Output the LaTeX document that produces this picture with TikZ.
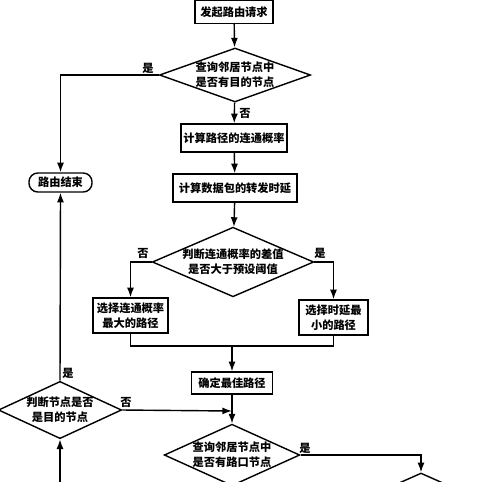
\documentclass[tikz,border=0pt]{standalone}
\usepackage{fontspec}
\newfontfamily\cjk{Noto Sans CJK SC}
\usetikzlibrary{arrows.meta,shapes.geometric}
\newdimen\pu \pu=0.02cm
\begin{document}
\begin{tikzpicture}[x=0.02cm,y=-0.02cm,
  every node/.style={font=\cjk\bfseries\fontsize{6.4}{8.6}\selectfont, inner sep=0pt, align=center},
  box/.style={draw, line width=0.8pt, rectangle},
  dia/.style={draw, line width=0.8pt, diamond},
  term/.style={draw, line width=0.8pt, rounded corners=5pt},
  arr/.style={line width=0.8pt, -{Latex[length=5.5pt,width=4pt]}},
  ln/.style={line width=0.8pt}]
\useasboundingbox (0,0) rectangle (500,481);

\node[box, minimum width=78\pu, minimum height=23\pu] (start) at (234,12) {发起路由请求};
\node[dia, minimum width=146\pu, minimum height=52\pu, aspect=2.8] (d1) at (235,75) {查询邻居节点中\\是否有目的节点};
\node[box, minimum width=106\pu, minimum height=28\pu] (p1) at (234,138) {计算路径的连通概率};
\node[box, minimum width=124\pu, minimum height=28\pu] (p2) at (235,188) {计算数据包的转发时延};
\node[dia, minimum width=158\pu, minimum height=68\pu, aspect=2.32] (d2) at (233,262) {判断连通概率的差值\\是否大于预设阈值};
\node[box, minimum width=75\pu, minimum height=35\pu] (pl) at (130.5,315.5) {选择连通概率\\最大的路径};
\node[box, minimum width=69\pu, minimum height=35\pu] (pr) at (333.5,317.5) {选择时延最\\小的路径};
\node[box, minimum width=81\pu, minimum height=22\pu] (best) at (232,383) {确定最佳路径};
\node[dia, minimum width=127\pu, minimum height=58\pu, aspect=2.2] (d3) at (232,455) {查询邻居节点中\\是否有路口节点};
\node[dia, minimum width=130\pu, minimum height=58\pu, aspect=2.2] (d5) at (421,502) {};
\node[term, minimum width=63\pu, minimum height=19\pu] (end) at (60.5,182.5) {路由结束};
\node[dia, minimum width=116\pu, minimum height=54\pu, aspect=2.15] (d4) at (60,410) {判断节点是否\\是目的节点};
\coordinate (bl) at (60,495);
\coordinate (join) at (232,346);
\coordinate (j2) at (232,411);

\draw[arr] (start) -- (d1);
\draw[arr] (d1) -- (p1);
\draw[arr] (p1) -- (p2);
\draw[arr] (p2) -- (d2);
\draw[arr] (d2.west) -| (pl.north);
\draw[arr] (d2.east) -| (pr.north);
\draw[ln] (pl.south) |- (join) -| (pr.south);
\draw[arr] (join) -- (best.north);
\draw[arr] (best.south) -- (d3.north);
\draw[arr] (d4.east) -- (j2);
\draw[arr] (d1.west) -| (end.north);
\draw[arr] (d4.north) -- (end.south);
\draw[arr] (bl) -- (d4.south);
\draw[arr] (d3.east) -| (d5.north);

\node (l1) at (148,68) {是};
\node (l2) at (245,113) {否};
\node (l3) at (143,253) {否};
\node (l4) at (320,253) {是};
\node (l5) at (68,373) {是};
\node (l6) at (126,402) {否};
\node (l7) at (305,448) {是};
\end{tikzpicture}
\end{document}
